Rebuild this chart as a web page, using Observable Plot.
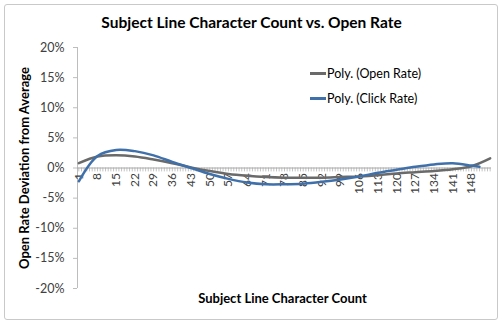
<!DOCTYPE html>
<html>
<head>
<meta charset="utf-8">
<script src="https://cdn.jsdelivr.net/npm/d3@7"></script>
<script src="https://cdn.jsdelivr.net/npm/@observablehq/plot@0.6"></script>
<style>
  html, body { margin: 0; padding: 0; background: #fff; }
  #wrap { position: relative; width: 503px; height: 324px; overflow: hidden; font-family: Lato, "Open Sans", sans-serif; }
  #frame { position: absolute; left: 4px; top: 4px; width: 492px; height: 314px; border: 1px solid #c9c9c9; border-radius: 3px; box-sizing: content-box; }
  #title { position: absolute; left: 0; width: 503px; top: 13px; text-align: center; font-weight: bold; font-size: 15.5px; color: #000; }
  #ytitle { position: absolute; left: 24px; top: 168px; transform: translate(-50%, -50%) rotate(-90deg); white-space: nowrap; font-weight: bold; font-size: 13px; color: #000; }
  #xtitle { position: absolute; left: 0; width: 565px; top: 290px; text-align: center; font-weight: bold; font-size: 13px; color: #000; }
  #chart { position: absolute; left: 0; top: 0; }
  .leg { position: absolute; left: 310px; font-size: 12.5px; color: #000; display: flex; align-items: center; white-space: nowrap; }
  .leg span.sw { display: inline-block; width: 16px; height: 3px; margin-right: 1px; }
</style>
</head>
<body>
<div id="wrap">
  <div id="frame"></div>
  <div id="chart"></div>
  <div id="title">Subject Line Character Count vs. Open Rate</div>
  <div id="ytitle">Open Rate Deviation from Average</div>
  <div id="xtitle">Subject Line Character Count</div>
  <div id="legend"></div>
</div>
<script>
// Category axis: character counts 1..155, labels every 7th
const categories = d3.range(1, 156);
const tickLabels = [1, 8, 15, 22, 29, 36, 43, 50, 57, 64, 71, 78, 85, 92, 99, 106, 113, 120, 127, 134, 141, 148];
const yTicks = [-20, -15, -10, -5, 0, 5, 10, 15, 20];

// Poly. (Open Rate) trendline, read at sample character counts (%)
const openX    = [1, 8, 15, 22, 29, 36, 43, 50, 57, 64, 71, 78, 85, 92, 99, 106, 113, 120, 127, 134, 141, 148, 155];
const openRate = [0.8, 1.9, 2.1, 1.9, 1.4, 0.8, 0.1, -0.5, -1.0, -1.3, -1.5, -1.6, -1.6, -1.6, -1.5, -1.4, -1.2, -0.9, -0.7, -0.5, -0.2, 0.3, 1.6];

// Poly. (Click Rate) trendline (%)
const clickX    = [1, 8, 15, 22, 29, 36, 43, 50, 57, 64, 71, 78, 85, 92, 99, 106, 113, 120, 127, 134, 141, 148, 151];
const clickRate = [-2.2, 2.0, 3.0, 2.8, 2.1, 1.0, 0.0, -1.0, -1.8, -2.4, -2.7, -2.7, -2.6, -2.3, -1.9, -1.4, -0.8, -0.3, 0.2, 0.6, 0.8, 0.4, 0.2];

const seriesNames = ["Poly. (Open Rate)", "Poly. (Click Rate)"];
const seriesColors = ["#6a6a6a", "#3f70aa"];

const openData = openX.map((x, i) => ({x, y: openRate[i]}));
const clickData = clickX.map((x, i) => ({x, y: clickRate[i]}));

const chart = Plot.plot({
  width: 503,
  height: 324,
  marginLeft: 77,
  marginRight: 12,
  marginTop: 47,
  marginBottom: 36,
  style: {fontFamily: "Lato, 'Open Sans', sans-serif", background: "transparent", overflow: "visible"},
  x: {type: "linear", domain: [0.5, 155.5], axis: null},
  y: {domain: [-20, 20], axis: null},
  marks: [
    Plot.ruleX([0.5], {stroke: "#bdbdbd", strokeWidth: 1}),
    Plot.axisY({ticks: yTicks, tickFormat: d => d + "%", tickSize: 4, tickPadding: 9, stroke: "#bdbdbd", fill: "#404040", fontSize: 12.5, label: null}),
    Plot.ruleX(categories, {x: d => d, y1: 0, y2: -0.65, stroke: "#c4c4c4", strokeWidth: 1}),
    Plot.ruleY([0], {stroke: "#a8a8a8", strokeWidth: 1}),
    Plot.text(tickLabels, {x: d => d, y: 0, text: d => String(d), rotate: -90, textAnchor: "end", dy: 5, fontSize: 12, fill: "#404040"}),
    Plot.line(openData, {x: "x", y: "y", stroke: seriesColors[0], strokeWidth: 2.5, curve: "catmull-rom"}),
    Plot.line(clickData, {x: "x", y: "y", stroke: seriesColors[1], strokeWidth: 2.5, curve: "catmull-rom"})
  ]
});
document.getElementById("chart").appendChild(chart);

const legend = document.getElementById("legend");
seriesNames.forEach((name, i) => {
  const d = document.createElement("div");
  d.className = "leg";
  d.style.top = (66 + i * 25) + "px";
  d.innerHTML = `<span class="sw" style="background:${seriesColors[i]}"></span>${name}`;
  legend.appendChild(d);
});
</script>
</body>
</html>
